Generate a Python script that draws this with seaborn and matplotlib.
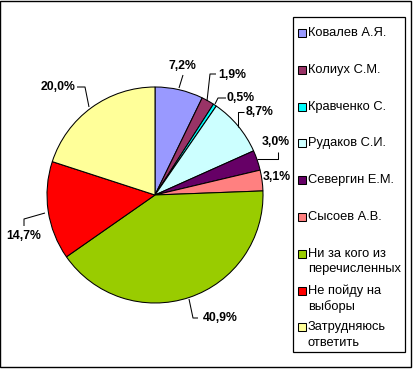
import matplotlib
matplotlib.use("Agg")
import matplotlib.pyplot as plt
import seaborn as sns
from matplotlib.patches import Rectangle

# ---- data ----
categories = ["Ковалев А.Я.", "Колиух С.М.", "Кравченко С.", "Рудаков С.И.",
              "Севергин Е.М.", "Сысоев А.В.", "Ни за кого из\nперечисленных",
              "Не пойду на\nвыборы", "Затрудняюсь\nответить"]
values = [7.2, 1.9, 0.5, 8.7, 3.0, 3.1, 40.9, 14.7, 20.0]
value_labels = ["7,2%", "1,9%", "0,5%", "8,7%", "3,0%", "3,1%", "40,9%", "14,7%", "20,0%"]

# ---- style ----
colors = ["#9999FF", "#993366", "#00FFFF", "#CCFFFF", "#660066",
          "#FF8080", "#99CC00", "#FF0000", "#FFFF99"]
label_pos = [(182, 66), (232, 75), (241, 98), (260, 112), (276, 142),
             (277, 177), (220, 318), (24, 236), (58, 87)]
leaders = [[(183, 75), (179, 88)],
           [(216, 74), (210, 74), (207, 101)],
           [(226, 98), (218, 98), (215, 104)],
           [(244, 112), (238, 112), (238, 127)],
           [(278, 152), (278, 159), (257, 159)],
           [],
           [(198, 318), (193, 318), (189, 299)],
           [(24, 226), (24, 219), (45, 213)],
           [(77, 87), (85, 87), (89, 107)]]

sns.set_style("white")
plt.rcParams['font.family'] = ['Liberation Sans', 'DejaVu Sans']

W, H = 414, 371
fig = plt.figure(figsize=(W / 100, H / 100), dpi=100)
ax = fig.add_axes([0, 0, 1, 1])

def fy(y):
    return H - y

cx, cy, r = 155, 195, 108
ax.pie(values, colors=colors, startangle=90, counterclock=False,
       center=(cx, fy(cy)), radius=r, frame=True,
       wedgeprops=dict(edgecolor="black", linewidth=0.75))
ax.set_xlim(0, W)
ax.set_ylim(0, H)
ax.set_axis_off()

for lab, (x, y), pts in zip(value_labels, label_pos, leaders):
    ax.text(x, fy(y), lab, ha="center", va="center", fontsize=8.8,
            fontweight="bold", color="black")
    if pts:
        ax.plot([p[0] for p in pts], [fy(p[1]) for p in pts],
                color="black", lw=0.75, solid_capstyle="butt")

# legend box
ax.add_patch(Rectangle((293, fy(352)), 405 - 293, 352 - 17, fill=False,
                       edgecolor="black", lw=0.9))
y0, step, lh = 33, 36.8, 15.5
for i, (cat, col) in enumerate(zip(categories, colors)):
    yc = y0 + i * step
    ax.add_patch(Rectangle((298, fy(yc + 4)), 8, 8, facecolor=col,
                           edgecolor="black", lw=0.75))
    for k, line in enumerate(cat.split("\n")):
        ax.text(308, fy(yc + k * lh), line, ha="left", va="center",
                fontsize=9.3, color="black")

# outer frame
ax.add_patch(Rectangle((0.5, fy(367)), 410.5, 366, fill=False,
                       edgecolor="black", lw=1.0))

fig.savefig("out.png", dpi=100)
